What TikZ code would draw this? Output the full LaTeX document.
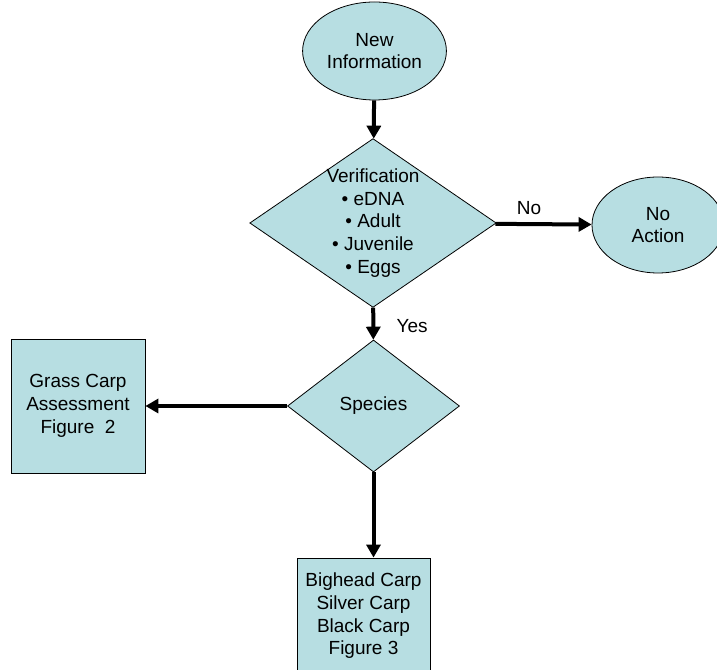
\documentclass[tikz,border=0pt]{standalone}
\usepackage{fontspec}
\setmainfont{Liberation Sans}
\usetikzlibrary{shapes.geometric,arrows.meta}
\begin{document}
\begin{tikzpicture}[x=1pt,y=1pt,
  filled/.style={fill=box area, draw=black, line width=0.8pt, align=center,
    font=\fontsize{19}{22.7}\selectfont},
  flow/.style={-{Triangle[length=13pt,width=14pt]}, line width=4pt},
  tag/.style={font=\fontsize{19}{22.7}\selectfont}]

\definecolor{box area}{RGB}{183,222,226}

\clip (0,0) rectangle (717,669);

 \node[filled, ellipse, minimum width=135pt, minimum height=98pt] (newinfo) at (374.5,618) {New\\Information};
 \node[filled, diamond, aspect=1.46, inner sep=-1pt] (verify) at (373,446)
      {Verification\\• eDNA\\• Adult\\• Juvenile\\• Eggs};
 \node[filled, ellipse, minimum width=132pt, minimum height=96pt] (noaction) at (658,444) {No\\Action};
 \node[filled, diamond, minimum width=172pt, minimum height=132pt] (species) at (373.5,263) {Species};
 \node[filled, rectangle, minimum width=134pt, minimum height=134pt] (grass) at (78,263)
      {Grass Carp\\Assessment\\Figure~~2};
 \node[filled, rectangle, minimum width=133pt, minimum height=116pt] (bighead) at (363.5,53)
      {Bighead Carp\\Silver Carp\\Black Carp\\Figure 3};

 \draw[flow] (newinfo) -- (verify);
 \draw[flow] (verify) -- node[tag, above, pos=0.35, yshift=4pt] {No} (noaction);
 \draw[flow] (verify) -- node[tag, right, xshift=18pt, yshift=-2pt] {Yes} (species);
 \draw[flow] (species) -- (grass);
 \draw[flow] (species.south) -- (species.south |- bighead.north);
\end{tikzpicture}
\end{document}
